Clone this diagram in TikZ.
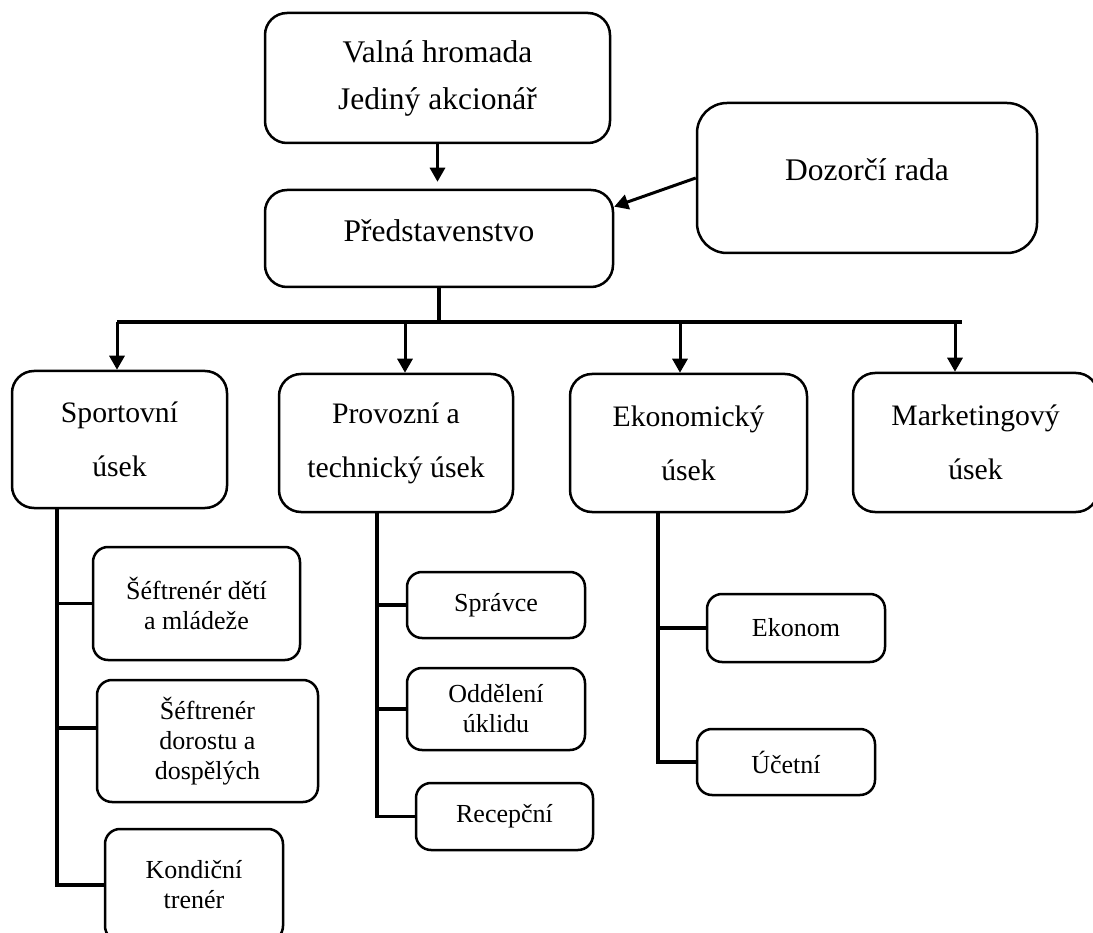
\documentclass[tikz,border=0pt]{standalone}
\usepackage{fontspec}
\setmainfont{Liberation Serif}
\usetikzlibrary{positioning,arrows.meta,calc}
\newcommand{\raisetext}[1]{\raisebox{8pt}[\height][\depth]{#1}}
\tikzset{
  unit/.style={draw, line width=2.5pt, rounded corners=22pt, align=center, inner sep=0pt, font=\fontsize{29.7}{54}\selectfont},
  head/.style={draw, line width=2.5pt, rounded corners=22pt, align=center, inner sep=0pt, font=\fontsize{31.5}{47}\selectfont},
  role/.style={draw, line width=2.5pt, rounded corners=15pt, align=center, inner sep=0pt, minimum width=178pt, font=\fontsize{26}{30}\selectfont},
  arrow/.style={-{Triangle[length=14pt, width=15pt]}, line width=3pt},
  link/.style={line width=3.5pt}
}
\begin{document}
\begin{tikzpicture}[x=1pt, y=-1pt]
    \path[use as bounding box, clip] (0,0) rectangle (1093,933);
    % top of the chart
    \node[head, minimum width=345pt, minimum height=130pt] (gm) at (437.5,78) {Valná hromada\\Jediný akcionář};
    \node[head, minimum width=348pt, minimum height=97pt] (board) at (439,238.5) {\raisetext{Představenstvo}};
    \node[head, rounded corners=30pt, minimum width=340pt, minimum height=150pt] (super) at (867,178) {\raisetext{Dozorčí rada}};
    \draw[arrow, shorten >=7pt] (gm.south) -- (gm.south |- board.north);
    \draw[arrow] (super.west) -- ($(board.north east)!0.18!(board.south east)$);
    % departments
    \node[unit, minimum width=215pt, minimum height=137pt] (sport) at (119.5,439.5) {Sportovní\\úsek};
    \node[unit, minimum width=234pt, minimum height=138pt] (ops) at (396,443) {Provozní a\\technický úsek};
    \node[unit, minimum width=237pt, minimum height=138pt] (econ) at (688.5,443) {Ekonomický\\úsek};
    \node[unit, minimum width=245pt, minimum height=139pt] (mkt) at (975.5,442.5) {Marketingový\\úsek};
    \draw[link] (board.south) -- (board.south |- 0,322);
    \coordinate (b1) at (117,322);
    \coordinate (b2) at (405,322);
    \coordinate (b3) at (680,322);
    \coordinate (b4) at (955,322);
    \coordinate (bend) at (962,322);
    \draw[link] (b1) -- (bend);
    \foreach \c/\n in {b1/sport, b2/ops, b3/econ, b4/mkt}
      \draw[arrow] (\c) -- (\c |- \n.north);
    % sportovni usek
    \coordinate (sp) at (57,508);
    \node[role, minimum width=207pt, minimum height=113pt] (s1) at (196.5,603.5) {Šéftrenér dětí\\a mládeže};
    \node[role, minimum width=221pt, minimum height=122pt] (s2) at (207.5,741) {Šéftrenér\\dorostu a\\dospělých};
    \node[role, minimum height=112pt] (s3) at (194,885) {Kondiční\\trenér};
    \coordinate (s2in) at ([yshift=13pt]s2.west);
    \draw[link] (sp) |- (s3.west);
    \draw[link] (sp |- s1.west) -- (s1.west);
    \draw[link] (sp |- s2in) -- (s2in);
    % provozni a technicky usek
    \coordinate (op) at (377,512);
    \node[role, minimum height=66pt] (o1) at (496,605) {Správce};
    \node[role, minimum height=82pt] (o2) at (496,709) {Oddělení\\úklidu};
    \node[role, minimum width=177pt, minimum height=67pt] (o3) at (504.5,816.5) {Recepční};
    \draw[link] (op) |- (o3.west);
    \draw[link] (op |- o1.west) -- (o1.west);
    \draw[link] (op |- o2.west) -- (o2.west);
    % ekonomicky usek
    \coordinate (ec) at (658,512);
    \node[role, minimum height=68pt] (e1) at (796,628) {Ekonom};
    \node[role, minimum height=66pt] (e2) at (786,762) {Účetní};
    \draw[link] (ec) |- (e2.west);
    \draw[link] (ec |- e1.west) -- (e1.west);
\end{tikzpicture}
\end{document}
